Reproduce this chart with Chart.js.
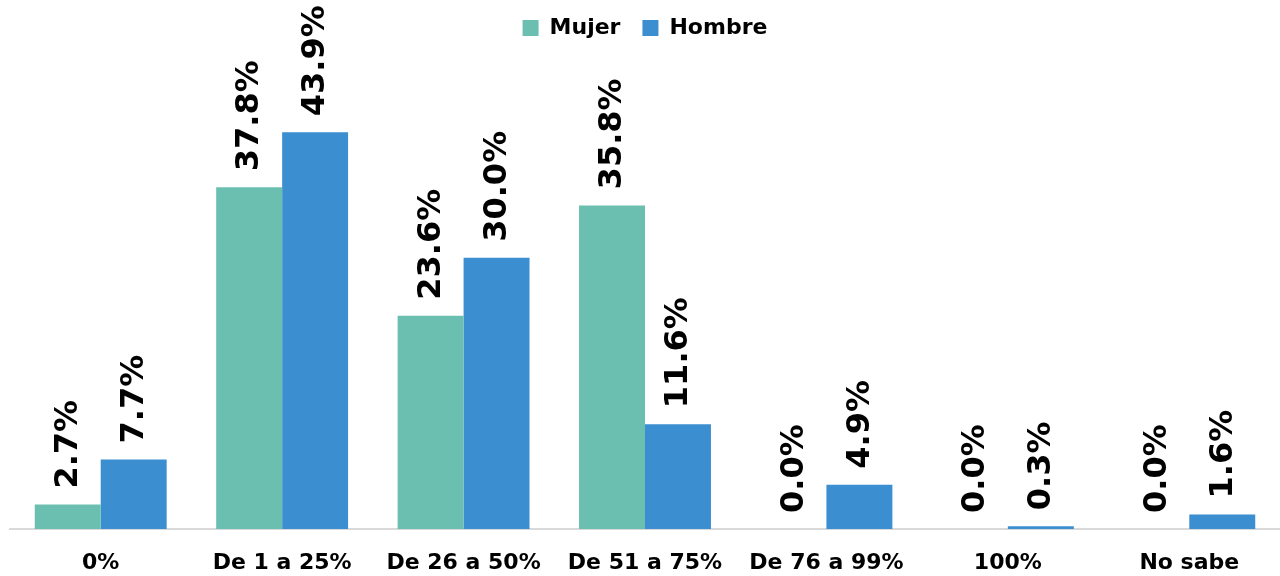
<!DOCTYPE html>
<html>
<head>
<meta charset="utf-8">
<script src="https://cdn.jsdelivr.net/npm/chart.js@4/dist/chart.umd.min.js"></script>
<style>
html,body{margin:0;padding:0;background:#fff;}
#wrap{width:1280px;height:576px;}
</style>
</head>
<body>
<div id="wrap"><canvas id="c" width="1280" height="576"></canvas></div>
<script>
const categories = ["0%", "De 1 a 25%", "De 26 a 50%", "De 51 a 75%", "De 76 a 99%", "100%", "No sabe"];
const mujer = [2.7, 37.8, 23.6, 35.8, 0.0, 0.0, 0.0];
const hombre = [7.7, 43.9, 30.0, 11.6, 4.9, 0.3, 1.6];
const seriesNames = ["Mujer", "Hombre"];

const FONT = "'DejaVu Sans', sans-serif";

const valueLabels = {
  id: 'valueLabels',
  afterDatasetsDraw(chart) {
    const ctx = chart.ctx;
    ctx.save();
    ctx.fillStyle = '#000';
    ctx.font = "bold 32px " + FONT;
    ctx.textAlign = 'left';
    ctx.textBaseline = 'middle';
    chart.data.datasets.forEach((ds, di) => {
      const meta = chart.getDatasetMeta(di);
      meta.data.forEach((bar, i) => {
        const v = ds.data[i];
        ctx.save();
        ctx.translate(bar.x + 1, bar.y - 16);
        ctx.rotate(-Math.PI / 2);
        ctx.fillText(v.toFixed(1) + '%', 0, 0);
        ctx.restore();
      });
    });
    ctx.restore();
  }
};

new Chart(document.getElementById('c'), {
  type: 'bar',
  data: {
    labels: categories,
    datasets: [
      { label: seriesNames[0], data: mujer, backgroundColor: '#6ABFB0', categoryPercentage: 0.727, barPercentage: 1.0 },
      { label: seriesNames[1], data: hombre, backgroundColor: '#3B8ED0', categoryPercentage: 0.727, barPercentage: 1.0 }
    ]
  },
  options: {
    responsive: false,
    animation: false,
    layout: { padding: { left: 10, right: 0, top: -5, bottom: 0 } },
    plugins: {
      legend: {
        display: true,
        position: 'top',
        labels: {
          boxWidth: 16, boxHeight: 16, padding: 22,
          color: '#000',
          font: { family: FONT, size: 22, weight: 'bold' }
        }
      },
      tooltip: { enabled: false }
    },
    scales: {
      x: {
        grid: { display: false },
        border: { display: true, color: '#d9d9d9', width: 2 },
        ticks: { color: '#000', padding: 13, font: { family: FONT, size: 22, weight: 'bold' }, maxRotation: 0, autoSkip: false },
        afterFit(scale) { scale.height = 47; }
      },
      y: {
        display: false,
        min: 0,
        max: 53.1
      }
    }
  },
  plugins: [valueLabels]
});
</script>
</body>
</html>
